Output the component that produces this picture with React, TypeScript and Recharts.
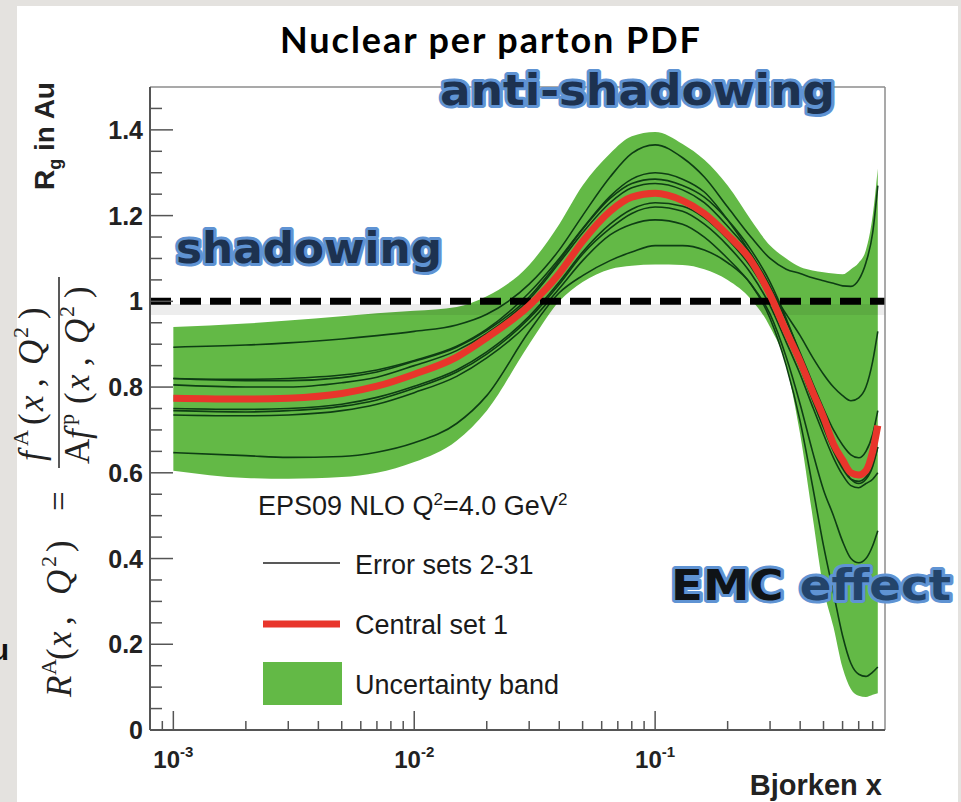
import React from "react"
import { ComposedChart, Area, Line, XAxis, YAxis, ReferenceLine, Legend } from "recharts"

// Bjorken x grid shared by every curve
const xValues = [0.001, 0.002, 0.003, 0.005, 0.007, 0.01, 0.015, 0.02, 0.03, 0.04, 0.05, 0.065, 0.08, 0.1, 0.13, 0.16, 0.2, 0.25, 0.3, 0.35, 0.4, 0.45, 0.5, 0.55, 0.6, 0.65, 0.7, 0.75, 0.8, 0.84]

// uncertainty band edges
const bandLow = [0.605, 0.588, 0.586, 0.59, 0.6, 0.625, 0.675, 0.745, 0.9, 1.0, 1.045, 1.075, 1.083, 1.086, 1.085, 1.075, 1.05, 1.005, 0.94, 0.85, 0.69, 0.5, 0.33, 0.24, 0.145, 0.095, 0.08, 0.077, 0.082, 0.086]
const bandHigh = [0.94, 0.948, 0.955, 0.965, 0.972, 0.978, 0.987, 1.012, 1.085, 1.18, 1.27, 1.345, 1.385, 1.395, 1.367, 1.33, 1.27, 1.19, 1.13, 1.1, 1.08, 1.072, 1.068, 1.065, 1.063, 1.075, 1.09, 1.12, 1.2, 1.31]

// central set 1
const centralSet = [0.774, 0.772, 0.774, 0.785, 0.802, 0.83, 0.87, 0.915, 0.99, 1.065, 1.14, 1.21, 1.243, 1.252, 1.235, 1.205, 1.155, 1.095, 1.015, 0.93, 0.86, 0.79, 0.73, 0.667, 0.63, 0.6, 0.595, 0.605, 0.65, 0.71]

// a few of the error sets 2-31
const errTop = [0.893, 0.898, 0.903, 0.912, 0.92, 0.93, 0.945, 0.97, 1.04, 1.12, 1.2, 1.29, 1.345, 1.365, 1.335, 1.29, 1.22, 1.15, 1.1, 1.075, 1.065, 1.055, 1.048, 1.042, 1.036, 1.035, 1.05, 1.09, 1.16, 1.27]
const errHigh = [0.82, 0.818, 0.82, 0.828, 0.84, 0.862, 0.895, 0.935, 1.02, 1.1, 1.17, 1.245, 1.285, 1.3, 1.285, 1.255, 1.19, 1.11, 1.03, 0.97, 0.92, 0.87, 0.83, 0.8, 0.78, 0.768, 0.775, 0.8, 0.86, 0.93]
const errMidA = [0.805, 0.8, 0.8, 0.81, 0.823, 0.85, 0.885, 0.925, 1.005, 1.09, 1.16, 1.23, 1.265, 1.275, 1.26, 1.23, 1.175, 1.11, 1.035, 0.955, 0.88, 0.81, 0.75, 0.7, 0.665, 0.642, 0.635, 0.65, 0.69, 0.745]
const errMidB = [0.82, 0.815, 0.815, 0.822, 0.835, 0.86, 0.893, 0.932, 1.01, 1.095, 1.168, 1.24, 1.275, 1.285, 1.27, 1.243, 1.19, 1.12, 1.045, 0.96, 0.875, 0.79, 0.72, 0.66, 0.615, 0.585, 0.575, 0.585, 0.615, 0.66]
const errMidC = [0.75, 0.748, 0.75, 0.76, 0.776, 0.802, 0.84, 0.882, 0.965, 1.045, 1.115, 1.18, 1.215, 1.23, 1.222, 1.195, 1.145, 1.08, 1.005, 0.92, 0.845, 0.77, 0.705, 0.65, 0.61, 0.585, 0.58, 0.59, 0.62, 0.66]
const errLowA = [0.745, 0.742, 0.745, 0.755, 0.77, 0.797, 0.835, 0.877, 0.96, 1.04, 1.11, 1.17, 1.205, 1.22, 1.21, 1.18, 1.13, 1.065, 0.99, 0.905, 0.83, 0.755, 0.69, 0.635, 0.595, 0.57, 0.565, 0.575, 0.585, 0.6]
const errLowB = [0.735, 0.733, 0.735, 0.745, 0.76, 0.787, 0.825, 0.868, 0.95, 1.03, 1.095, 1.155, 1.18, 1.19, 1.18, 1.15, 1.1, 1.04, 0.97, 0.87, 0.76, 0.65, 0.56, 0.5, 0.44, 0.4, 0.39, 0.4, 0.43, 0.465]
const errBottom = [0.647, 0.64, 0.636, 0.638, 0.648, 0.67, 0.715, 0.78, 0.93, 1.02, 1.06, 1.095, 1.115, 1.13, 1.13, 1.12, 1.09, 1.04, 0.96, 0.85, 0.72, 0.57, 0.43, 0.32, 0.22, 0.155, 0.13, 0.125, 0.135, 0.147]

const errorSets = [errTop, errHigh, errMidA, errMidB, errMidC, errLowA, errLowB, errBottom]

// axis ticks
const xTicks = [0.0009, 0.001, 0.002, 0.003, 0.004, 0.005, 0.006, 0.007, 0.008, 0.009, 0.01, 0.02, 0.03, 0.04, 0.05, 0.06, 0.07, 0.08, 0.09, 0.1, 0.2, 0.3, 0.4, 0.5, 0.6, 0.7, 0.8]
const xMajorTicks = [0.001, 0.01, 0.1]
const xMajorExponents = ["-3", "-2", "-1"]
const yTicks = [0, 0.05, 0.1, 0.15, 0.2, 0.25, 0.3, 0.35, 0.4, 0.45, 0.5, 0.55, 0.6, 0.65, 0.7, 0.75, 0.8, 0.85, 0.9, 0.95, 1, 1.05, 1.1, 1.15, 1.2, 1.25, 1.3, 1.35, 1.4, 1.45]
const yMajorTicks = [0, 0.2, 0.4, 0.6, 0.8, 1, 1.2, 1.4]

const rows = xValues.map((x, i) => {
  const row: any = { x, band: [bandLow[i], bandHigh[i]], central: centralSet[i] }
  errorSets.forEach((s, k) => { row["e" + k] = s[i] })
  return row
})

const SANS = "'Liberation Sans', Arial, sans-serif"
const SERIF = "'Liberation Serif', 'Times New Roman', serif"
const BAND = "#63b946"
const RED = "#e8352b"
const ERR = "#0e3d14"

function XTick(props: any) {
  const { x, y, payload } = props
  const idx = xMajorTicks.indexOf(payload.value)
  const major = idx >= 0
  return (
    <g>
      <line x1={x} y1={y} x2={x} y2={y - (major ? 19 : 9)} stroke="#555" strokeWidth={1.5} />
      {major && (
        <text x={x} y={y + 38} textAnchor="middle" fontFamily={SANS} fontWeight="bold" fontSize={24} fill="#222">
          10<tspan dy={-11} fontSize={15}>{xMajorExponents[idx]}</tspan>
        </text>
      )}
    </g>
  )
}

function YTick(props: any) {
  const { x, y, payload } = props
  const major = yMajorTicks.includes(payload.value)
  return (
    <g>
      <line x1={x} y1={y} x2={x + (major ? 23 : 12)} y2={y} stroke="#555" strokeWidth={1.5} />
      {major && (
        <text x={x - 7} y={y + 9} textAnchor="end" fontFamily={SANS} fontWeight="bold" fontSize={25} fill="#222">
          {String(payload.value)}
        </text>
      )}
    </g>
  )
}

function LegendBox() {
  const t = { fontFamily: SANS, fontSize: 27, fill: "#1a1a1a" }
  return (
    <svg width={360} height={230}>
      <text x={3} y={35} {...t}>
        EPS09 NLO Q<tspan dy={-10} fontSize={17}>2</tspan><tspan dy={10}>=4.0 GeV</tspan><tspan dy={-10} fontSize={17}>2</tspan>
      </text>
      <line x1={8} y1={83} x2={85} y2={83} stroke="#222" strokeWidth={1.5} />
      <text x={100} y={94} {...t}>Error sets 2-31</text>
      <line x1={8} y1={144} x2={85} y2={144} stroke={RED} strokeWidth={7} />
      <text x={100} y={154} {...t}>Central set 1</text>
      <rect x={8} y={182} width={79} height={43} fill={BAND} />
      <text x={100} y={214} {...t}>Uncertainty band</text>
    </svg>
  )
}

function Overlay() {
  const ann = {
    fontFamily: "'DejaVu Sans', sans-serif",
    fontWeight: "bold" as const,
    fontSize: 42,
    stroke: "#5f93d3",
    strokeWidth: 6,
    strokeLinejoin: "round" as const,
    paintOrder: "stroke",
    lengthAdjust: "spacingAndGlyphs",
  }
  return (
    <svg width={961} height={802} style={{ position: "absolute", left: 0, top: 0, pointerEvents: "none" }}>
      <text x={280} y={53} textLength={420} lengthAdjust="spacing" fontFamily="Lato, 'Open Sans', sans-serif" fontWeight="bold" fontSize={36} fill="#000">
        Nuclear per parton PDF
      </text>

      <text x={440} y={105} textLength={395} fill="#1d3250" {...ann}>anti-shadowing</text>
      <text x={176} y={263} textLength={266} fill="#1d3250" {...ann}>shadowing</text>
      <text x={671} y={600} textLength={280} fill="#0f1317" {...ann}>
        EMC <tspan fill="#23446b">effect</tspan>
      </text>

      <text x={882} y={795} textAnchor="end" fontFamily={SANS} fontWeight="bold" fontSize={29} fill="#222">Bjorken x</text>

      <text transform="translate(54,190) rotate(-90)" fontFamily={SANS} fontWeight="bold" fontSize={28} fill="#222">
        R<tspan dy={7} fontSize={18}>g</tspan><tspan dy={-7}> in Au</tspan>
      </text>

      <text x={9} y={660} textAnchor="end" fontFamily={SANS} fontWeight="bold" fontSize={30} fill="#111">Au</text>

      {/* R^A(x,Q^2) = f^A / (A f^p) */}
      <g fontFamily={SERIF} fontSize={35} fill="#222">
        <text transform="translate(71,697) rotate(-90)">
          <tspan x={0} fontStyle="italic">R</tspan>
          <tspan x={22} y={-15} fontSize={22}>A</tspan>
          <tspan x={37} y={0}>(</tspan>
          <tspan x={50} fontStyle="italic">x</tspan>
          <tspan x={72}>,</tspan>
          <tspan x={102} fontStyle="italic">Q</tspan>
          <tspan x={130} y={-15} fontSize={22}>2</tspan>
          <tspan x={145} y={0}>)</tspan>
          <tspan x={186}>=</tspan>
        </text>
        <text transform="translate(43,461) rotate(-90)">
          <tspan x={0} fontStyle="italic">f</tspan>
          <tspan x={15} y={-15} fontSize={22}>A</tspan>
          <tspan x={36} y={0}>(</tspan>
          <tspan x={50} fontStyle="italic">x</tspan>
          <tspan x={74}>,</tspan>
          <tspan x={96} fontStyle="italic">Q</tspan>
          <tspan x={123} y={-15} fontSize={22}>2</tspan>
          <tspan x={142} y={0}>)</tspan>
        </text>
        <line x1={59} y1={468} x2={59} y2={277} stroke="#222" strokeWidth={1.5} />
        <text transform="translate(89,464) rotate(-90)">
          <tspan x={0}>A</tspan>
          <tspan x={25} fontStyle="italic">f</tspan>
          <tspan x={39} y={-15} fontSize={22}>p</tspan>
          <tspan x={60} y={0}>(</tspan>
          <tspan x={74} fontStyle="italic">x</tspan>
          <tspan x={98}>,</tspan>
          <tspan x={120} fontStyle="italic">Q</tspan>
          <tspan x={147} y={-15} fontSize={22}>2</tspan>
          <tspan x={166} y={0}>)</tspan>
        </text>
      </g>
    </svg>
  )
}

export default function App() {
  return (
    <div style={{ position: "absolute", left: 0, top: 0, width: 961, height: 802, background: "#e4e2df", overflow: "hidden" }}>
      <div style={{ position: "absolute", left: 17, top: 6, width: 941, height: 796, background: "#fff" }} />
      <div style={{ position: "absolute", left: 0, top: 0 }}>
        <ComposedChart width={961} height={802} data={rows} margin={{ top: 87, right: 76, bottom: 0, left: 0 }}>
          <XAxis
            dataKey="x"
            type="number"
            scale="log"
            domain={[0.0008, 0.9]}
            ticks={xTicks}
            interval={0}
            allowDataOverflow
            height={72}
            tick={(p: any) => <XTick {...p} />}
            tickLine={false}
            tickSize={0}
            tickMargin={0}
            axisLine={{ stroke: "#555", strokeWidth: 2 }}
          />
          <YAxis
            type="number"
            domain={[0, 1.5]}
            ticks={yTicks}
            interval={0}
            allowDataOverflow
            width={150}
            tick={(p: any) => <YTick {...p} />}
            tickLine={false}
            tickSize={0}
            tickMargin={0}
            axisLine={{ stroke: "#555", strokeWidth: 2 }}
          />
          <Area type="monotone" dataKey="band" stroke="none" fill={BAND} fillOpacity={1} isAnimationActive={false} />
          {errorSets.map((_, k) => (
            <Line key={k} type="monotone" dataKey={"e" + k} stroke={ERR} strokeWidth={1.6} dot={false} isAnimationActive={false} />
          ))}
          <ReferenceLine y={0.981} stroke="#000" strokeOpacity={0.07} strokeWidth={11} />
          <ReferenceLine y={1} stroke="#000" strokeWidth={7} strokeDasharray="21 9" />
          <Line type="monotone" dataKey="central" stroke={RED} strokeWidth={7} dot={false} isAnimationActive={false} />
          <ReferenceLine y={1.5} stroke="#8c8c8c" strokeWidth={1.5} />
          <ReferenceLine x={0.9} stroke="#8c8c8c" strokeWidth={1.5} />
          <Legend
            layout="vertical"
            align="center"
            verticalAlign="middle"
            content={() => <LegendBox />}
            wrapperStyle={{ left: 255, top: 480, width: 360, height: 230 }}
          />
        </ComposedChart>
      </div>
      <Overlay />
    </div>
  )
}
